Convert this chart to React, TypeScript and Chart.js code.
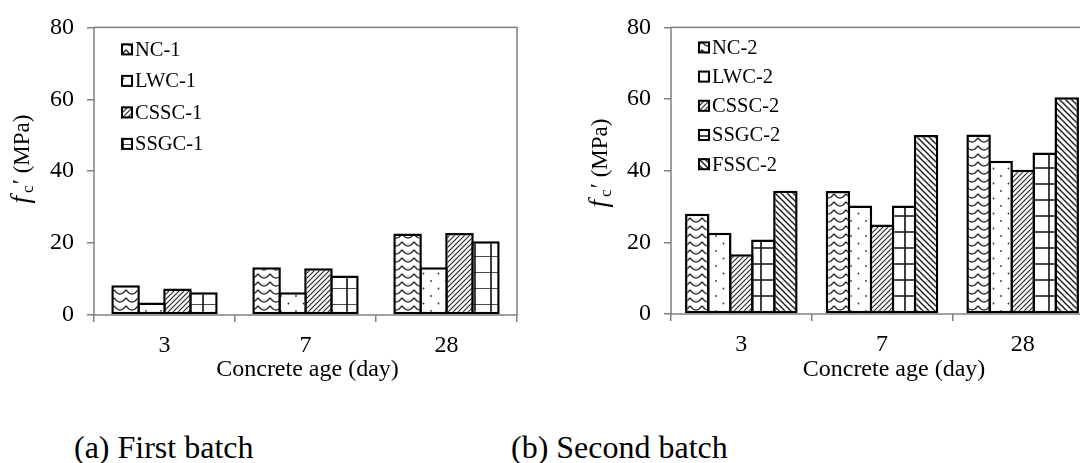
import React, { useEffect, useRef } from "react";
import { Chart, registerables } from "chart.js";

Chart.register(...registerables);

// ---------- data ----------
const categories = ["3", "7", "28"];
const yTickValues = [0, 20, 40, 60, 80];
const xAxisTitle = "Concrete age (day)";

const batch1Labels = ["NC-1", "LWC-1", "CSSC-1", "SSGC-1"];
const nc1 = [8.3, 13.3, 22.7];
const lwc1 = [3.5, 6.3, 13.3];
const cssc1 = [7.4, 13.0, 22.8];
const ssgc1 = [6.3, 11.0, 20.5];

const batch2Labels = ["NC-2", "LWC-2", "CSSC-2", "SSGC-2", "FSSC-2"];
const nc2 = [28.0, 34.3, 50.1];
const lwc2 = [22.7, 30.3, 42.8];
const cssc2 = [16.7, 25.0, 40.3];
const ssgc2 = [20.8, 30.3, 45.1];
const fssc2 = [34.4, 50.0, 60.5];

const patterns1 = ["wave", "dots", "fwd", "grid"];
const patterns2 = ["wave", "dots", "fwd", "grid", "back"];

const captionA = "(a) First batch";
const captionB = "(b) Second batch";

const SERIF = "'Liberation Serif', 'Times New Roman', serif";

// ---------- patterns ----------
function makePattern(kind: string, ctx: CanvasRenderingContext2D, gx: number, gy: number) {
  const c = document.createElement("canvas");
  let w = 8, h = 8;
  if (kind === "wave") { w = 12; h = 8; }
  if (kind === "dots") { w = 15; h = 15; }
  if (kind === "fwd") { w = 5; h = 5; }
  if (kind === "back") { w = 6; h = 6; }
  if (kind === "grid") { w = 16; h = 16; }
  c.width = w; c.height = h;
  const g = c.getContext("2d")!;
  g.fillStyle = "#fff";
  g.fillRect(0, 0, w, h);
  g.strokeStyle = "#222";
  g.fillStyle = "#333";
  if (kind === "wave") {
    g.lineWidth = 1.4;
    g.lineJoin = "round";
    g.beginPath();
    g.moveTo(-6, 2);
    g.lineTo(-3, 5);
    g.quadraticCurveTo(0, 7, 3, 5);
    g.lineTo(6, 2);
    g.lineTo(9, 5);
    g.quadraticCurveTo(12, 7, 15, 5);
    g.lineTo(18, 2);
    g.stroke();
  } else if (kind === "dots") {
    g.beginPath();
    g.arc(3.5, 3.5, 0.9, 0, Math.PI * 2);
    g.arc(11, 11, 0.9, 0, Math.PI * 2);
    g.fill();
  } else if (kind === "fwd") {
    g.lineWidth = 1.1;
    g.beginPath();
    for (let k = -1; k <= 1; k++) {
      g.moveTo(k * w - 1, h + 1);
      g.lineTo(k * w + w + 1, -1);
    }
    g.stroke();
  } else if (kind === "back") {
    g.lineWidth = 1.5;
    g.beginPath();
    for (let k = -1; k <= 1; k++) {
      g.moveTo(k * w - 1, -1);
      g.lineTo(k * w + w + 1, h + 1);
    }
    g.stroke();
  } else if (kind === "grid") {
    g.strokeStyle = "#111";
    g.lineWidth = 1.6;
    g.beginPath();
    g.moveTo(gx, 0); g.lineTo(gx, h);
    g.moveTo(0, gy); g.lineTo(w, gy);
    g.stroke();
  }
  return ctx.createPattern(c, "repeat");
}

// ---------- plugins ----------
const framePlugin = {
  id: "frame",
  beforeDatasetsDraw(chart: any) {
    const { ctx, chartArea: a } = chart;
    ctx.save();
    ctx.strokeStyle = "#808080";
    ctx.lineWidth = 1.5;
    ctx.strokeRect(a.left, a.top, a.right - a.left, a.bottom - a.top);
    ctx.restore();
  },
};

function makeDecorPlugin(opts: any) {
  return {
    id: "decor",
    afterDatasetsDraw(chart: any) {
      const { ctx, chartArea: a } = chart;
      ctx.save();
      // legend
      ctx.font = `20.5px ${SERIF}`;
      ctx.textBaseline = "middle";
      ctx.textAlign = "left";
      chart.data.datasets.forEach((ds: any, i: number) => {
        const cy = a.top + opts.legendTop + i * opts.legendGap;
        const bx = a.left + opts.legendLeft;
        const s = 12;
        ctx.fillStyle = ds.backgroundColor;
        ctx.fillRect(bx, cy - s / 2, s, s);
        ctx.strokeStyle = "#000";
        ctx.lineWidth = 2;
        ctx.strokeRect(bx + 1, cy - s / 2 + 1, s - 2, s - 2);
        ctx.fillStyle = "#000";
        ctx.fillText(ds.label, bx + s + 2, cy + 1);
      });
      ctx.restore();

      // x-axis title
      ctx.save();
      ctx.font = `24px ${SERIF}`;
      ctx.fillStyle = "#000";
      ctx.textAlign = "center";
      ctx.textBaseline = "alphabetic";
      ctx.fillText(xAxisTitle, (a.left + a.right) / 2 + opts.xTitleDx, opts.xTitleBaseline);
      ctx.restore();

      // y-axis title: f'c (MPa), rotated
      ctx.save();
      ctx.translate(opts.yTitleX, opts.yTitleY);
      ctx.rotate(-Math.PI / 2);
      ctx.fillStyle = "#000";
      ctx.textBaseline = "alphabetic";
      ctx.textAlign = "left";
      const fFont = `italic 27px ${SERIF}`;
      const cFont = `17px ${SERIF}`;
      const pFont = `24px ${SERIF}`;
      const mFont = `23px ${SERIF}`;
      ctx.font = fFont; const wf = ctx.measureText("f").width;
      ctx.font = cFont; const wc = ctx.measureText("c").width;
      ctx.font = pFont; const wp = ctx.measureText("\u2032").width;
      ctx.font = mFont; const wm = ctx.measureText(" (MPa)").width;
      const total = wf + 3 + wc + 1 + wp + wm;
      let x = -total / 2;
      ctx.font = fFont; ctx.fillText("f", x, 0); x += wf + 3;
      ctx.font = cFont; ctx.fillText("c", x, 4); x += wc + 1;
      ctx.font = pFont; ctx.fillText("\u2032", x, -1); x += wp;
      ctx.font = mFont; ctx.fillText(" (MPa)", x, 0);
      ctx.restore();
    },
  };
}

// ---------- chart builder ----------
function buildChart(canvas: HTMLCanvasElement, cfg: any) {
  const ctx = canvas.getContext("2d")!;
  const datasets = cfg.series.map((s: number[], i: number) => ({
    label: cfg.labels[i],
    data: s,
    backgroundColor: makePattern(cfg.kinds[i], ctx, cfg.gridX, cfg.gridY),
    borderColor: "#000",
    borderWidth: 2.5,
    borderSkipped: false,
    categoryPercentage: cfg.catPct,
    barPercentage: cfg.barPct,
  }));
  const tickFont = { family: SERIF, size: 24 };
  return new Chart(canvas, {
    type: "bar",
    data: { labels: categories, datasets },
    options: {
      animation: false,
      responsive: false,
      devicePixelRatio: 1,
      layout: { padding: { left: 0, top: cfg.padTop, right: cfg.padRight, bottom: cfg.padBottom } },
      plugins: { legend: { display: false }, tooltip: { enabled: false } },
      scales: {
        x: {
          offset: true,
          grid: { display: true, offset: true, drawOnChartArea: false, drawTicks: true, tickLength: 7, color: "#808080", lineWidth: 1.5 },
          border: { display: false },
          ticks: { color: "#000", font: tickFont, padding: 9, maxRotation: 0 },
          afterFit: (s: any) => { s.height = cfg.xAxisH; },
        },
        y: {
          min: 0,
          max: 80,
          afterBuildTicks: (s: any) => { s.ticks = yTickValues.map((v) => ({ value: v })); },
          grid: { display: true, drawOnChartArea: false, drawTicks: true, tickLength: 7, color: "#808080", lineWidth: 1.5 },
          border: { display: false },
          ticks: { color: "#000", font: tickFont, padding: 13 },
          afterFit: (s: any) => { s.width = cfg.yAxisW; },
        },
      },
    },
    plugins: [framePlugin, makeDecorPlugin(cfg.decor)],
  } as any);
}

function Panel(props: any) {
  const ref = useRef<HTMLCanvasElement>(null);
  useEffect(() => {
    if (!ref.current) return;
    const ch = buildChart(ref.current, props.cfg);
    return () => ch.destroy();
  }, []);
  return (
    <canvas
      ref={ref}
      width={props.w}
      height={props.h}
      style={{ position: "absolute", left: props.left, top: 0, width: props.w, height: props.h }}
    />
  );
}

const cfg1 = {
  labels: batch1Labels,
  series: [nc1, lwc1, cssc1, ssgc1],
  kinds: patterns1,
  catPct: 0.736,
  barPct: 1.1,
  gridX: 11,
  gridY: 0,
  padTop: 25,
  padRight: 23,
  padBottom: 10,
  xAxisH: 75,
  yAxisW: 94,
  decor: { legendTop: 22, legendGap: 31.5, legendLeft: 27, xTitleDx: 2, xTitleBaseline: 376, yTitleX: 29, yTitleY: 159 },
};

const cfg2 = {
  labels: batch2Labels,
  series: [nc2, lwc2, cssc2, ssgc2, fssc2],
  kinds: patterns2,
  catPct: 0.783,
  barPct: 1.11,
  gridX: 13,
  gridY: 8,
  padTop: 23,
  padRight: 47,
  padBottom: 11,
  xAxisH: 75,
  yAxisW: 131,
  decor: { legendTop: 20, legendGap: 29.2, legendLeft: 27, xTitleDx: 12, xTitleBaseline: 376, yTitleX: 607, yTitleY: 163 },
};

export default function App() {
  // y title x is given in page coords; convert for the right canvas
  const c2 = { ...cfg2, decor: { ...cfg2.decor, yTitleX: cfg2.decor.yTitleX - 540 } };
  return (
    <div style={{ position: "absolute", left: 0, top: 0, width: 1080, height: 463, overflow: "hidden", background: "#fff" }}>
      <Panel cfg={cfg1} left={0} w={540} h={400} />
      <Panel cfg={c2} left={540} w={600} h={400} />
      <div style={{ position: "absolute", left: 74, top: 431, font: `32px ${SERIF}`, lineHeight: "32px", color: "#000", whiteSpace: "nowrap" }}>{captionA}</div>
      <div style={{ position: "absolute", left: 511, top: 431, font: `32px ${SERIF}`, lineHeight: "32px", color: "#000", whiteSpace: "nowrap" }}>{captionB}</div>
    </div>
  );
}
